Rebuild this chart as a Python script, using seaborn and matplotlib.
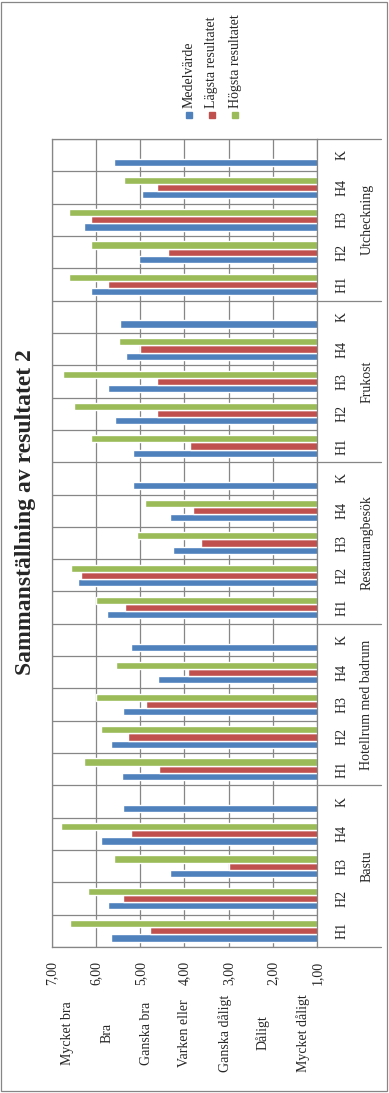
import numpy as np
import pandas as pd
import matplotlib
matplotlib.use("Agg")
import matplotlib.pyplot as plt
from matplotlib.patches import Rectangle
from matplotlib.transforms import blended_transform_factory
import seaborn as sns

# -- Data ----------------------------------------------------------------------

GROUPS = ["Bastu", "Hotellrum med badrum", "Restaurangbesök", "Frukost", "Utcheckning"]
ITEMS = ["H1", "H2", "H3", "H4", "K"]
SERIES = ["Medelvärde", "Lägsta resultatet", "Högsta resultatet"]

MEDEL = [5.67, 5.74, 4.33, 5.88, 5.40,
         5.42, 5.67, 5.40, 4.61, 5.22,
         5.76, 6.42, 4.27, 4.33, 5.17,
         5.17, 5.58, 5.74, 5.33, 5.47,
         6.12, 5.04, 6.28, 4.97, 5.60]
LAGSTA = [4.79, 5.40, 3.00, 5.20, None,
          4.58, 5.29, 4.88, 3.93, None,
          5.35, 6.35, 3.63, 3.81, None,
          3.88, 4.63, 4.63, 5.00, None,
          5.74, 4.38, 6.12, 4.63, None]
HOGSTA = [6.60, 6.19, 5.60, 6.80, None,
          6.28, 5.88, 6.00, 5.54, None,
          6.00, 6.56, 5.08, 4.90, None,
          6.12, 6.51, 6.76, 5.49, None,
          6.62, 6.12, 6.62, 5.38, None]

VALUE_TICKS = [1, 2, 3, 4, 5, 6, 7]
SCALE_LABELS = ["Mycket bra", "Bra", "Ganska bra", "Varken eller",
                "Ganska dåligt", "Dåligt", "Mycket dåligt"]

COLORS = ["#4F81BD", "#C0504D", "#9BBB59"]
GRID = "#868686"
W, H = 389, 1093
FS = 10

# -- Frame ---------------------------------------------------------------------

keys = [f"{g}|{i}" for g in GROUPS for i in ITEMS]
rows = []
for name, vals in zip(SERIES, [MEDEL, LAGSTA, HOGSTA]):
    for k, v in zip(keys, vals):
        rows.append({"key": k, "serie": name, "value": np.nan if v is None else v})
df = pd.DataFrame(rows)

sns.set_style("white")
plt.rcParams["font.family"] = ["Liberation Serif", "DejaVu Serif"]

fig = plt.figure(figsize=(W / 100, H / 100), dpi=100)
ax = fig.add_axes([52 / W, 1 - 947 / H, (317 - 52) / W, (947 - 139) / H])

sns.barplot(data=df, y="key", x="value", hue="serie", order=keys, hue_order=SERIES,
            palette=COLORS, orient="h", width=0.667, errorbar=None, legend=False,
            saturation=1, ax=ax)

n = len(keys)
ax.set_ylim(-0.5, n - 0.5)
ax.set_xlim(7, 1)
ax.set_xlabel("")
ax.set_ylabel("")

# value axis (bottom after rotation)
ax.set_xticks(VALUE_TICKS)
ax.set_xticklabels([f"{v:.2f}".replace(".", ",") for v in VALUE_TICKS], rotation=90, fontsize=FS)
ax.tick_params(axis="x", length=0, pad=10)

# category axis (right side)
ax.yaxis.tick_right()
ax.set_yticks(range(n))
ax.set_yticklabels([k.split("|")[1] for k in keys], rotation=90, va="center", fontsize=FS)
ax.tick_params(axis="y", length=0, pad=13)
ax.set_yticks(np.arange(-0.5, n, 1), minor=True)
ax.tick_params(axis="y", which="minor", length=0)

ax.set_axisbelow(True)
ax.grid(axis="x", which="major", color=GRID, lw=0.9)
ax.grid(axis="y", which="minor", color=GRID, lw=0.9)
ax.grid(axis="y", which="major", visible=False)
for s in ax.spines.values():
    s.set_color(GRID)
    s.set_linewidth(0.9)

# group separators + group names
tr = blended_transform_factory(ax.transAxes, ax.transData)
x_end = (381 - 52) / (317 - 52)
for gi, g in enumerate(GROUPS):
    y0 = gi * len(ITEMS) - 0.5
    ax.plot([1, x_end], [y0, y0], color=GRID, lw=0.9, transform=tr, clip_on=False)
    ax.text((367 - 52) / (317 - 52), gi * len(ITEMS) + (len(ITEMS) - 1) / 2, g,
            rotation=90, ha="center", va="center", fontsize=FS, transform=tr)
ax.plot([1, x_end], [n - 0.5, n - 0.5], color=GRID, lw=0.9, transform=tr, clip_on=False)

# title
fig.text(26 / W, 1 - 512 / H, "Sammanställning av resultatet 2", rotation=90,
         ha="center", va="center", fontsize=17, fontweight="bold")

# legend, drawn by hand so it can be rotated
for j, (name, c) in enumerate(zip(SERIES, COLORS)):
    cx = 189 + 23 * j
    fig.patches.append(Rectangle(((cx - 3) / W, 1 - 118 / H), 6 / W, 6 / H,
                                 transform=fig.transFigure, color=c))
    fig.text(cx / W, 1 - 108 / H, name, rotation=90, ha="center", va="bottom", fontsize=FS)

# verbal scale under the value axis
scale_x = [68, 107, 146, 185, 225, 263, 303]
for x, lab in zip(scale_x, SCALE_LABELS):
    fig.text(x / W, 1 - 1033 / H, lab, rotation=90, ha="center", va="center", fontsize=FS)

# outer chart border
fig.patches.append(Rectangle((1 / W, 2 / H), (W - 3) / W, (H - 4) / H, transform=fig.transFigure,
                             fill=False, edgecolor=GRID, lw=0.9))

fig.savefig("out.png", dpi=100)
